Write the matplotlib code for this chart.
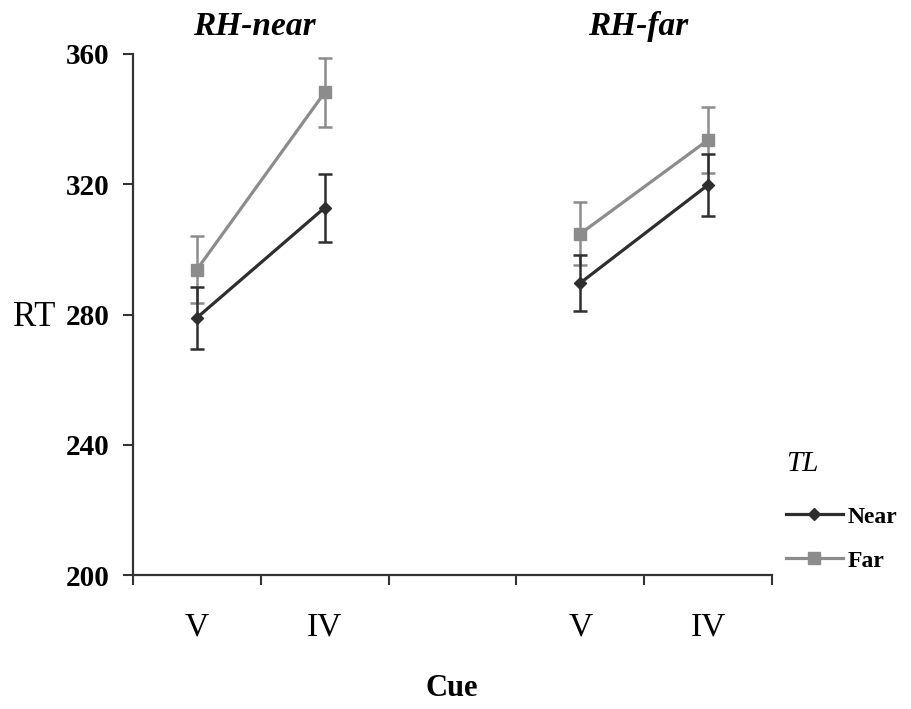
import numpy as np
import matplotlib
matplotlib.use('Agg')
import matplotlib.pyplot as plt

plt.rcParams['font.family'] = ['Liberation Serif', 'DejaVu Serif']

# Data
panels = ['RH-near', 'RH-far']
cues = ['V', 'IV']
near_mean = [279.0, 312.8, 289.7, 319.8]
near_err = [9.5, 10.5, 8.6, 9.4]
far_mean = [293.8, 348.2, 304.8, 333.6]
far_err = [10.3, 10.6, 9.7, 10.2]

near_col = '#2e2e2e'
far_col = '#8c8c8c'

fig = plt.figure(figsize=(9.11, 7.09), dpi=100)
ax = fig.add_axes([133/911, 1-575/709, (772-133)/911, (575-54)/709])

# x slot of each point: panel p, cue c -> p*3 + c (one empty slot between panels)
for p in range(len(panels)):
    xs = [p*3 + c for c in range(len(cues))]
    sl = slice(p*2, p*2+2)
    ax.errorbar(xs, far_mean[sl], yerr=far_err[sl], color=far_col, lw=2.3,
                marker='s', ms=8, elinewidth=1.8, capsize=5, capthick=1.8,
                zorder=2, label='Far' if p == 0 else None)
    ax.errorbar(xs, near_mean[sl], yerr=near_err[sl], color=near_col, lw=2.3,
                marker='D', ms=6.5, elinewidth=1.8, capsize=5, capthick=1.8,
                zorder=3, label='Near' if p == 0 else None)
    ax.text(p*3 + 0.45, 365.8, panels[p], ha='center', va='baseline',
            fontsize=24, fontweight='bold', fontstyle='italic')

ax.set_xlim(-0.5, 4.5)
ax.set_ylim(200, 360)
ax.set_yticks([200, 240, 280, 320, 360])
ax.tick_params(axis='y', direction='out', length=7, width=1.5, pad=10,
               labelsize=21, color='#333333')
for lbl in ax.get_yticklabels():
    lbl.set_fontweight('bold')

# boundary ticks without labels, labels at slot centres
ax.set_xticks(np.arange(-0.5, 5, 1.0))
ax.set_xticklabels([])
ax.tick_params(axis='x', which='major', direction='out', length=7, width=1.5,
               color='#333333')
lab_pos = [p*3 + c for p in range(len(panels)) for c in range(len(cues))]
ax.set_xticks(lab_pos, minor=True)
ax.set_xticklabels(cues * len(panels), minor=True)
ax.tick_params(axis='x', which='minor', length=0, pad=27, labelsize=24)

for s in ['top', 'right']:
    ax.spines[s].set_visible(False)
for s in ['left', 'bottom']:
    ax.spines[s].set_linewidth(1.6)
    ax.spines[s].set_color('#333333')

fig.text(55/911, 1-317/709, 'RT', ha='right', va='center', fontsize=25)
fig.text(452/911, 1-688/709, 'Cue', ha='center', va='center', fontsize=22,
         fontweight='bold')

h, l = ax.get_legend_handles_labels()
order = [l.index('Near'), l.index('Far')]
h = [hh[0] for hh in h]
leg = fig.legend([h[i] for i in order], [l[i] for i in order],
                 loc='upper left', bbox_to_anchor=(786/911, 1-451/709),
                 frameon=False, fontsize=17, handlelength=2.4, handletextpad=0.2,
                 labelspacing=0.95, title='TL', alignment='left',
                 borderaxespad=0, borderpad=0)
leg.get_title().set_fontsize(21)
leg.get_title().set_fontstyle('italic')
leg._legend_box.sep = 21
for t in leg.get_texts():
    t.set_fontweight('bold')

fig.savefig('out.png', dpi=100)
